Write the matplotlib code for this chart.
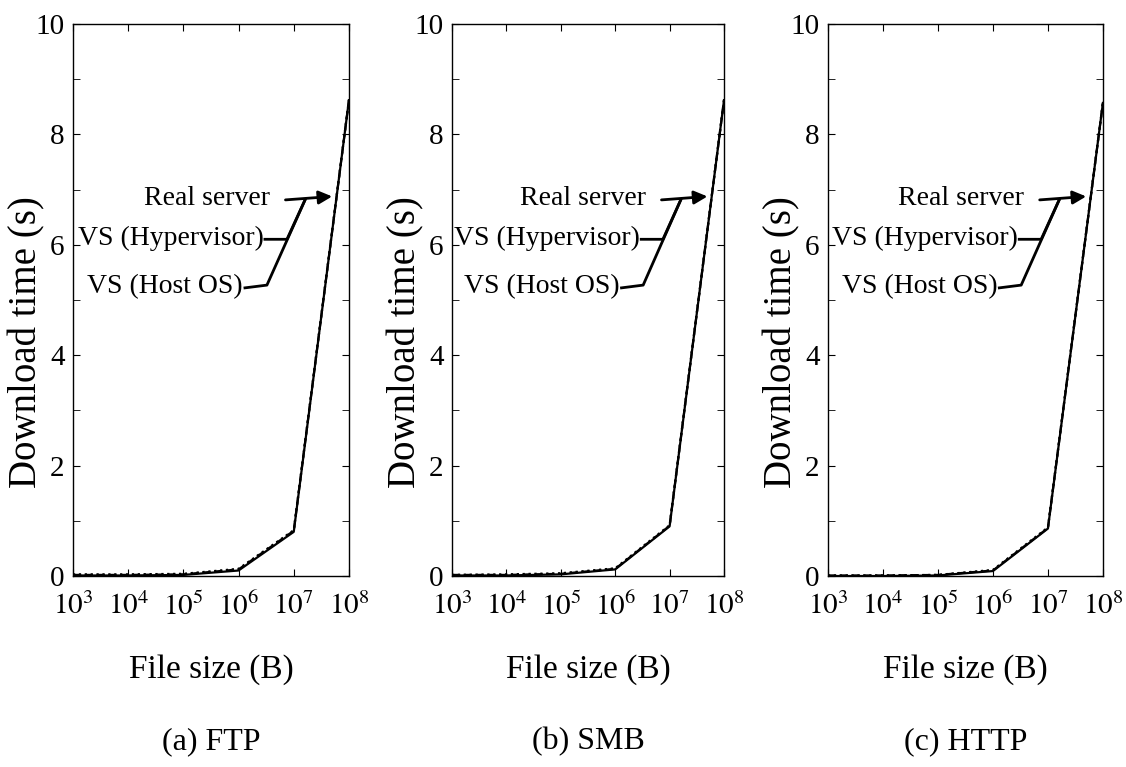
import numpy as np
import matplotlib
matplotlib.use('Agg')
import matplotlib.pyplot as plt
from matplotlib.ticker import MultipleLocator, FixedLocator

plt.rcParams['font.family'] = ['Liberation Serif', 'DejaVu Serif']
plt.rcParams['mathtext.fontset'] = 'stix'

file_size = [1e3, 1e4, 1e5, 1e6, 1e7, 1e8]
protocols = ['(a) FTP', '(b) SMB', '(c) HTTP']

# download time (s) per protocol: real server, VS (hypervisor), VS (host OS)
ftp_real = [0.01, 0.01, 0.02, 0.10, 0.80, 8.62]
ftp_hyp = [0.02, 0.02, 0.03, 0.12, 0.82, 8.62]
ftp_host = [0.03, 0.03, 0.04, 0.13, 0.83, 8.63]
smb_real = [0.01, 0.01, 0.03, 0.12, 0.90, 8.62]
smb_hyp = [0.02, 0.02, 0.04, 0.13, 0.91, 8.62]
smb_host = [0.02, 0.03, 0.05, 0.14, 0.92, 8.63]
http_real = [0.00, 0.00, 0.01, 0.09, 0.86, 8.57]
http_hyp = [0.01, 0.01, 0.02, 0.10, 0.87, 8.57]
http_host = [0.01, 0.01, 0.02, 0.11, 0.88, 8.58]

series = [(ftp_real, ftp_hyp, ftp_host),
          (smb_real, smb_hyp, smb_host),
          (http_real, http_hyp, http_host)]

fig = plt.figure(figsize=(11.26, 7.67), dpi=100)
lefts = [0.0648, 0.4014, 0.7353]
widths = [0.2451, 0.2416, 0.2442]
ax_h = 0.7197
ax_h_px = ax_h * 767

for i in range(3):
    ax = fig.add_axes([lefts[i], 0.249, widths[i], ax_h])
    real, hyp, host = series[i]
    ax.plot(file_size, real, 'k-', linewidth=1.6)
    ax.plot(file_size, hyp, 'k--', linewidth=1.6)
    ax.plot(file_size, host, 'k:', linewidth=1.6)
    ax.set_xscale('log')
    ax.set_xlim(1e3, 1e8)
    ax.set_ylim(0, 10)
    ax.xaxis.set_major_locator(FixedLocator(file_size))
    ax.xaxis.set_minor_locator(FixedLocator([]))
    ax.set_xticklabels([r'$10^{%d}$' % k for k in range(3, 9)])
    ax.yaxis.set_major_locator(MultipleLocator(2))
    ax.yaxis.set_minor_locator(MultipleLocator(1))
    ax.tick_params(which='both', direction='in', top=True, right=True, length=5)
    ax.tick_params(axis='x', labelsize=21, pad=12)
    ax.tick_params(axis='y', labelsize=21, pad=6)
    for sp in ax.spines.values():
        sp.set_linewidth(1.0)

    ax_w_px = widths[i] * 1126
    ax.set_ylabel('Download time (s)', fontsize=28)
    ax.yaxis.set_label_coords(-46 / ax_w_px, 0.424)
    ax.yaxis.label.set_va('center')
    ax.set_xlabel('File size (B)', fontsize=24)
    ax.xaxis.set_label_coords(0.5, -94 / ax_h_px)
    ax.xaxis.label.set_va('center')
    ax.text(0.5, -166 / ax_h_px, protocols[i], transform=ax.transAxes,
            ha='center', va='center', fontsize=23)

    # annotations
    ax.annotate('', xy=(10**7.746, 6.88), xytext=(10**6.80, 6.81),
                arrowprops=dict(arrowstyle='-|>', color='k', lw=2, mutation_scale=20))
    ax.text(10**6.57, 6.83, 'Real server', ha='right', va='center', fontsize=20)
    ax.plot([10**6.478, 10**6.877, 10**7.203], [6.10, 6.10, 6.81], 'k-', linewidth=2)
    ax.text(10**6.46, 6.12, 'VS (Hypervisor)', ha='right', va='center', fontsize=20)
    ax.plot([10**6.116, 10**6.514, 10**7.203], [5.22, 5.27, 6.81], 'k-', linewidth=2)
    ax.text(10**6.08, 5.24, 'VS (Host OS)', ha='right', va='center', fontsize=20)

plt.savefig('out.png', dpi=100)
plt.close()
